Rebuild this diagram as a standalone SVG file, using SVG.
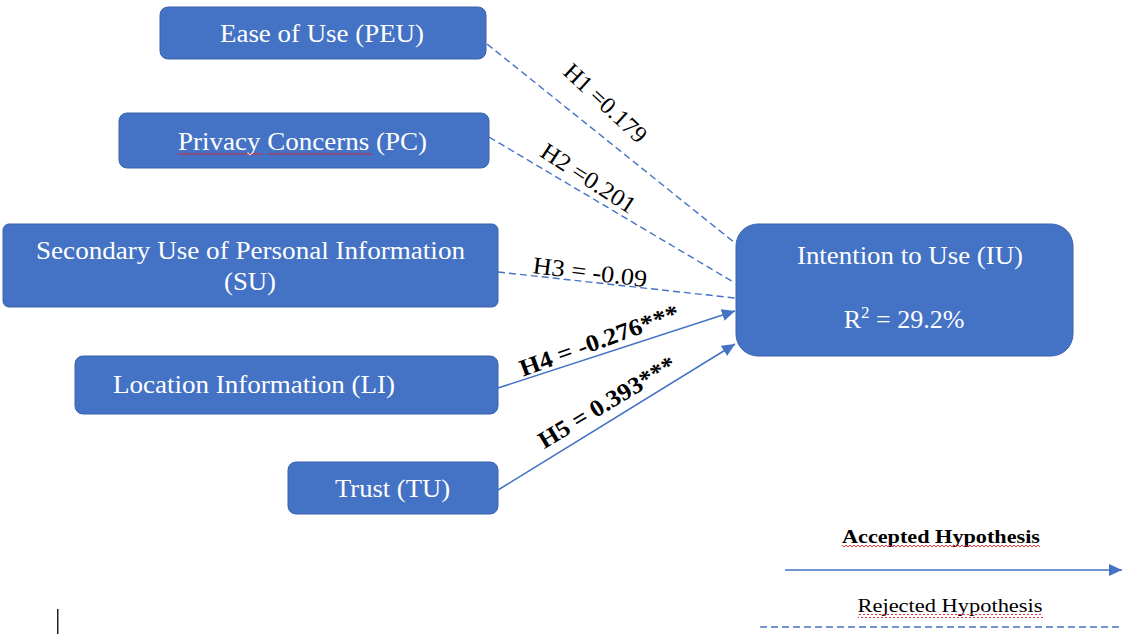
<svg xmlns="http://www.w3.org/2000/svg" width="1124" height="634" viewBox="0 0 1124 634">
  <defs>
    <style>
      .box { fill: #4472C4; stroke: #3A62AC; stroke-width: 1; }
      .boxtext { font-family: "Liberation Serif", "Times New Roman", serif; font-size: 26px; fill: #FFFFFF; text-anchor: middle; }
      .label { font-family: "Liberation Serif", "Times New Roman", serif; font-size: 24px; fill: #000000; text-anchor: middle; }
      .bold { font-weight: bold; }
      .legend { font-family: "Liberation Serif", "Times New Roman", serif; font-size: 19px; fill: #000000; text-anchor: middle; }
      .solid { stroke: #4472C4; stroke-width: 1.5; fill: none; }
      .dashed { stroke: #4472C4; stroke-width: 1.4; fill: none; stroke-dasharray: 7 4; }
    </style>
    <marker id="arrow" markerUnits="userSpaceOnUse" markerWidth="14" markerHeight="12" refX="13" refY="6" orient="auto">
      <path d="M0,0 L13,6 L0,12 Z" fill="#4472C4"/>
    </marker>
    <pattern id="squiggle" patternUnits="userSpaceOnUse" width="4" height="4">
      <polyline points="0,3 2,1 4,3" fill="none" stroke="#E0202A" stroke-width="0.9"/>
    </pattern>
  </defs>

  <rect width="1124" height="634" fill="#FFFFFF"/>

  <!-- connectors -->
  <g id="connectors">
    <line class="dashed" x1="487" y1="44" x2="735" y2="243"/>
    <line class="dashed" x1="489" y1="137" x2="735" y2="283"/>
    <line class="dashed" x1="498" y1="272" x2="735" y2="298"/>
    <line class="solid" x1="498" y1="388" x2="735" y2="311" marker-end="url(#arrow)"/>
    <line class="solid" x1="498" y1="490" x2="735" y2="344" marker-end="url(#arrow)"/>

    <text class="label" transform="translate(600,109) rotate(43)" textLength="104" lengthAdjust="spacingAndGlyphs">H1 =0.179</text>
    <text class="label" transform="translate(584,185) rotate(33)" textLength="108" lengthAdjust="spacingAndGlyphs">H2 =0.201</text>
    <text class="label" transform="translate(589,280) rotate(7)" textLength="115" lengthAdjust="spacingAndGlyphs">H3 = -0.09</text>
    <text class="label bold" transform="translate(602,348) rotate(-20)" textLength="168" lengthAdjust="spacingAndGlyphs">H4 = -0.276***</text>
    <text class="label bold" transform="translate(611,409) rotate(-31)" textLength="156" lengthAdjust="spacingAndGlyphs">H5 = 0.393***</text>
  </g>

  <!-- predictor nodes -->
  <g id="node-peu">
    <rect class="box" x="160" y="7" width="326" height="52" rx="8"/>
    <text class="boxtext" x="322" y="42" textLength="204" lengthAdjust="spacingAndGlyphs">Ease of Use (PEU)</text>
  </g>
  <g id="node-pc">
    <rect class="box" x="119" y="113" width="370" height="55" rx="8"/>
    <text class="boxtext" x="302.5" y="150" textLength="249" lengthAdjust="spacingAndGlyphs">Privacy Concerns (PC)</text>
    <rect x="178" y="152" width="85" height="4" fill="url(#squiggle)"/>
    <rect x="268" y="152" width="104" height="4" fill="url(#squiggle)"/>
  </g>
  <g id="node-su">
    <rect class="box" x="3" y="224" width="495" height="83" rx="6"/>
    <text class="boxtext" x="250.5" y="259" textLength="429" lengthAdjust="spacingAndGlyphs">Secondary Use of Personal Information</text>
    <text class="boxtext" x="250" y="290" textLength="52" lengthAdjust="spacingAndGlyphs">(SU)</text>
  </g>
  <g id="node-li">
    <rect class="box" x="75" y="356" width="423" height="58" rx="8"/>
    <text class="boxtext" x="254" y="393" textLength="282" lengthAdjust="spacingAndGlyphs">Location Information (LI)</text>
  </g>
  <g id="node-tu">
    <rect class="box" x="288" y="462" width="210" height="52" rx="8"/>
    <text class="boxtext" x="392.5" y="497" textLength="115" lengthAdjust="spacingAndGlyphs">Trust (TU)</text>
  </g>

  <!-- outcome node -->
  <g id="node-iu">
    <rect class="box" x="736" y="224" width="337" height="132" rx="22"/>
    <text class="boxtext" x="910" y="264" textLength="226" lengthAdjust="spacingAndGlyphs">Intention to Use (IU)</text>
    <text class="boxtext" x="904" y="328">R<tspan font-size="17" dy="-10">2</tspan><tspan dy="10"> = 29.2%</tspan></text>
  </g>

  <!-- legend -->
  <g id="legend">
    <text class="legend bold" x="941" y="543" textLength="198" lengthAdjust="spacingAndGlyphs">Accepted Hypothesis</text>
    <rect x="842" y="545" width="198" height="4" fill="url(#squiggle)"/>
    <line class="solid" x1="785" y1="570" x2="1122" y2="570" marker-end="url(#arrow)"/>
    <text class="legend" x="950" y="612" textLength="185" lengthAdjust="spacingAndGlyphs">Rejected Hypothesis</text>
    <rect x="858" y="614" width="185" height="4" fill="url(#squiggle)"/>
    <line class="dashed" x1="760" y1="627" x2="1120" y2="627"/>
  </g>

  <!-- text cursor -->
  <rect x="57" y="609" width="1.5" height="25" fill="#222222"/>
</svg>
